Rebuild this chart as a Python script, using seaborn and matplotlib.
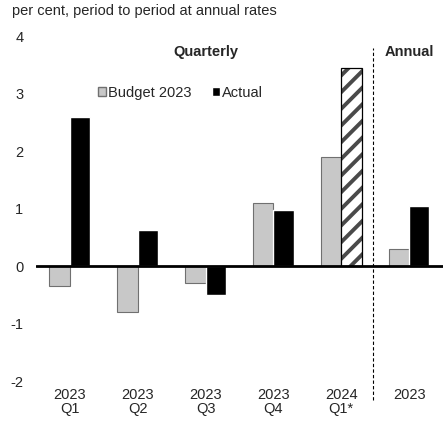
import pandas as pd
import matplotlib
matplotlib.use("Agg")
import matplotlib.pyplot as plt
import matplotlib.patches as mpatches
import seaborn as sns

# data
periods = ["2023Q1", "2023Q2", "2023Q3", "2023Q4", "2024Q1", "2023"]
tick_labels = ["2023\nQ1", "2023\nQ2", "2023\nQ3", "2023\nQ4", "2024\nQ1*", "2023"]
budget_2023 = [-0.35, -0.8, -0.3, 1.1, 1.9, 0.3]
actual = [2.6, 0.62, -0.5, 0.98, 3.45, 1.05]

df = pd.DataFrame({
    "period": periods * 2,
    "value": budget_2023 + actual,
    "series": ["Budget 2023"] * len(periods) + ["Actual"] * len(periods),
})

sns.set_style("white")
plt.rcParams['font.family'] = ['Liberation Sans', 'DejaVu Sans']
plt.rcParams['axes.unicode_minus'] = False
plt.rcParams['hatch.linewidth'] = 2.8

fs = 10.5
fig = plt.figure(figsize=(4.43, 4.24), dpi=100)
ax = fig.add_axes([0.081, 0.101, 0.919, 0.814])

sns.barplot(data=df, x="period", y="value", hue="series", order=periods,
            hue_order=["Budget 2023", "Actual"],
            palette={"Budget 2023": "#c8c8c8", "Actual": "black"},
            width=0.6, gap=0, ax=ax, saturation=1)

# outline the budget bars, hatch the 2024 Q1 actual (estimate)
for p in ax.patches[:len(periods)]:
    p.set_edgecolor("#707070")
    p.set_linewidth(0.8)
est = ax.patches[len(periods) + 4]
est.set_facecolor("white")
est.set_edgecolor("#4a4a4a")
est.set_hatch("//")
est.set_linewidth(0)
ax.add_patch(mpatches.Rectangle(est.get_xy(), est.get_width(), est.get_height(),
                                fill=False, edgecolor="black", lw=0.9, zorder=est.get_zorder()))

ax.set_ylim(-2, 4)
ax.set_xlim(-0.5, 5.5)
ax.axhline(0, color="black", lw=2, zorder=5)
# dashed divider between quarterly and annual, running past the axes
ax.plot([4.47, 4.47], [-0.055, 0.965], transform=ax.get_xaxis_transform(),
        color="black", lw=0.8, ls=(0, (3, 2)), clip_on=False, zorder=1)

for s in ax.spines.values():
    s.set_visible(False)
ax.set_xlabel("")
ax.set_ylabel("")
ax.set_xticks(range(len(periods)))
ax.set_xticklabels(tick_labels, fontsize=fs, linespacing=1.0)
ax.tick_params(axis="x", length=0, pad=5)
ax.tick_params(axis="y", length=0, labelsize=fs, pad=9)
ax.set_yticks([-2, -1, 0, 1, 2, 3, 4])

ax.text(2.0, 3.73, "Quarterly", ha="center", va="center", fontsize=fs, fontweight="bold")
ax.text(5.0, 3.73, "Annual", ha="center", va="center", fontsize=fs, fontweight="bold")
fig.text(0.027, 0.975, "per cent, period to period at annual rates", fontsize=fs, va="center")

handles, labels = ax.get_legend_handles_labels()
leg = ax.legend(handles=handles, labels=labels, loc="center", bbox_to_anchor=(0.355, 0.835),
                ncol=2, frameon=False, fontsize=fs, handlelength=0.55, handleheight=0.55,
                handletextpad=0.15, columnspacing=1.4)
leg.legend_handles[0].set_edgecolor("#707070")

fig.savefig("out.png", dpi=100)
